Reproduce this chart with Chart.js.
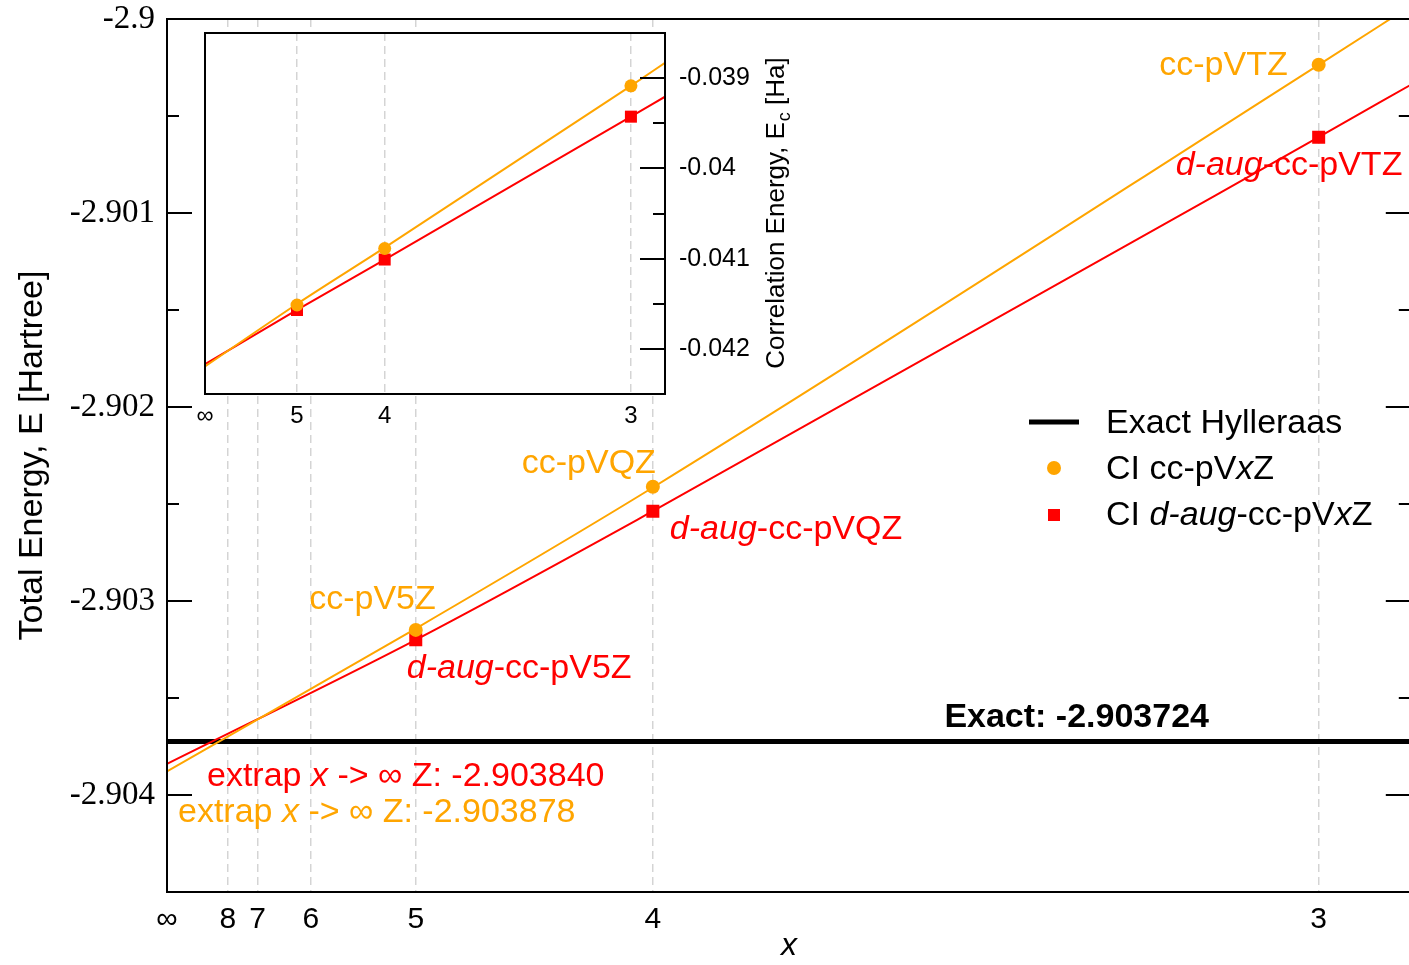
<!DOCTYPE html>
<html>
<head>
<meta charset="utf-8">
<script src="https://cdn.jsdelivr.net/npm/chart.js@4.4.1/dist/chart.umd.min.js"></script>
<style>
  html, body { margin: 0; padding: 0; background: #fff; overflow: hidden; width: 1409px; height: 965px; }
  #main { position: absolute; left: 0; top: 0; width: 1420px; height: 965px; }
  #inset { position: absolute; left: 150px; top: 0; width: 680px; height: 440px; }
</style>
</head>
<body>
<canvas id="main" width="1420" height="965"></canvas>
<canvas id="inset" width="680" height="440"></canvas>
<script>
// ---------------- data ----------------
const basisN = [3, 4, 5];                      // cardinal number x of the measured basis sets
const basisTags = ['T', 'Q', '5'];
const ccTotal   = [-2.900236, -2.902411, -2.903149];   // CI cc-pVxZ total energies
const daugTotal = [-2.900609, -2.902537, -2.903200];   // CI d-aug-cc-pVxZ total energies
const exactHylleraas = -2.903724;

// extrapolation curves, read at x^-3 = 0, 5^-3, 4^-3, 3^-3, 0.04
const fitX          = [0, 0.008, 0.015625, 0.037037, 0.04];
const ccFitTotal    = [-2.903878, -2.903142, -2.902415, -2.900236, -2.899932];
const daugFitTotal  = [-2.903840, -2.903200, -2.902537, -2.900609, -2.900339];

// inset: correlation energies
const ccCorr      = [-0.039085, -0.040888, -0.041514];
const daugCorr    = [-0.039427, -0.041010, -0.041569];
const ccFitCorr   = [-0.042195, -0.041503, -0.040879, -0.039085, -0.038831];
const daugFitCorr = [-0.042169, -0.041569, -0.041010, -0.039427, -0.039206];

// ticks
const mainXTickN  = [Infinity, 8, 7, 6, 5, 4, 3];
const insetXTickN = [Infinity, 5, 4, 3];
const mainYMajor  = [-2.904, -2.903, -2.902, -2.901, -2.9];
const mainYMinor  = [-2.9045, -2.9035, -2.9025, -2.9015, -2.9005];
const insetYMajor = [-0.042, -0.041, -0.04, -0.039];
const insetYMinor = [-0.0425, -0.0415, -0.0405, -0.0395, -0.0385];

// ---------------- styling ----------------
const ORANGE = '#FFA500';
const RED = '#FF0000';
const GRID = 'rgba(0,0,0,0.17)';
const SANS = '"Liberation Sans", Arial, Helvetica, sans-serif';
const SERIF = '"Liberation Serif", "Times New Roman", serif';
Chart.defaults.font.family = SANS;
Chart.defaults.color = '#000';

const invCube = n => (n === Infinity ? 0 : 1 / Math.pow(n, 3));
const tickLabel = n => (n === Infinity ? '\u221E' : String(n));
const pts = (xs, ys) => xs.map((x, i) => ({ x: x, y: ys[i] }));
const near = (a, b) => Math.abs(a - b) < 1e-9;
const noScalePadding = s => { s.paddingTop = 0; s.paddingBottom = 0; s.paddingLeft = 0; s.paddingRight = 0; };

// rich text: segments between underscores are italic
function richParts(s) {
  return s.split('_').map((t, i) => ({ t: t, i: i % 2 === 1 })).filter(p => p.t.length);
}
function drawRich(ctx, str, x, y, size, color, align, bold) {
  const parts = richParts(str);
  const f = p => (p.i ? 'italic ' : '') + (bold ? 'bold ' : '') + size + 'px ' + SANS;
  let total = 0;
  const w = parts.map(p => { ctx.font = f(p); const m = ctx.measureText(p.t).width; total += m; return m; });
  let cx = align === 'right' ? x - total : (align === 'center' ? x - total / 2 : x);
  ctx.save();
  ctx.fillStyle = color; ctx.textAlign = 'left'; ctx.textBaseline = 'alphabetic';
  parts.forEach((p, k) => { ctx.font = f(p); ctx.fillText(p.t, cx, y); cx += w[k]; });
  ctx.restore();
}

function drawInwardTicks(ctx, chart, scale, majors, left, right) {
  const a = chart.chartArea;
  ctx.save();
  ctx.strokeStyle = '#000'; ctx.lineWidth = 2;
  scale.ticks.forEach(t => {
    const py = Math.round(scale.getPixelForValue(t.value));
    const len = majors.some(m => near(m, t.value)) ? 25 : 12;
    ctx.beginPath();
    if (left) { ctx.moveTo(a.left, py); ctx.lineTo(a.left + len, py); }
    if (right) { ctx.moveTo(a.right, py); ctx.lineTo(a.right - len, py); }
    ctx.stroke();
  });
  ctx.restore();
}

// ---------------- main chart ----------------
const pointLabels = [
  { ds: 0, k: 0, text: 'cc-pVTZ',          color: ORANGE, align: 'right', dx: -31, dy: 10 },
  { ds: 1, k: 0, text: '_d-aug_-cc-pVTZ',  color: RED,    align: 'left',  dx: -143, dy: 38 },
  { ds: 0, k: 1, text: 'cc-pVQZ',          color: ORANGE, align: 'right', dx: 3,   dy: -14 },
  { ds: 1, k: 1, text: '_d-aug_-cc-pVQZ',  color: RED,    align: 'left',  dx: 17,  dy: 28 },
  { ds: 0, k: 2, text: 'cc-pV5Z',          color: ORANGE, align: 'right', dx: 20,  dy: -21 },
  { ds: 1, k: 2, text: '_d-aug_-cc-pV5Z',  color: RED,    align: 'left',  dx: -9,  dy: 38 }
];

const mainPlugin = {
  id: 'mainDecor',
  afterDraw(chart) {
    const ctx = chart.ctx, a = chart.chartArea, xs = chart.scales.x, ys = chart.scales.y;
    // frame
    ctx.save(); ctx.strokeStyle = '#000'; ctx.lineWidth = 2;
    ctx.strokeRect(a.left, a.top, a.right - a.left, a.bottom - a.top);
    ctx.restore();
    drawInwardTicks(ctx, chart, ys, mainYMajor, true, true);

    // point labels
    pointLabels.forEach(l => {
      const el = chart.getDatasetMeta(l.ds).data[l.k];
      drawRich(ctx, l.text, el.x + l.dx, el.y + l.dy, 34, l.color, l.align, false);
    });
    // exact value
    const yEx = ys.getPixelForValue(exactHylleraas);
    drawRich(ctx, 'Exact: ' + exactHylleraas.toFixed(6), xs.getPixelForValue(0.025), yEx - 14, 34, '#000', 'left', true);
    // extrapolated values
    const x0 = xs.getPixelForValue(0);
    drawRich(ctx, 'extrap _x_ -> \u221E Z: ' + daugFitTotal[0].toFixed(6), x0 + 40, ys.getPixelForValue(daugFitTotal[0]) + 22, 34, RED, 'left', false);
    drawRich(ctx, 'extrap _x_ -> \u221E Z: ' + ccFitTotal[0].toFixed(6), x0 + 11, ys.getPixelForValue(ccFitTotal[0]) + 51, 34, ORANGE, 'left', false);

    // legend
    const ds = chart.data.datasets;
    const lx = 1054, tx = 1106;
    ctx.save();
    ctx.strokeStyle = ds[4].borderColor; ctx.lineWidth = 5;
    ctx.beginPath(); ctx.moveTo(lx - 25, 422); ctx.lineTo(lx + 25, 422); ctx.stroke();
    ctx.fillStyle = ds[0].backgroundColor;
    ctx.beginPath(); ctx.arc(lx, 468, 7, 0, Math.PI * 2); ctx.fill();
    ctx.fillStyle = ds[1].backgroundColor;
    ctx.fillRect(lx - 6, 509, 12, 12);
    ctx.restore();
    drawRich(ctx, ds[4].label, tx, 433, 34, '#000', 'left', false);
    drawRich(ctx, ds[0].label, tx, 479, 34, '#000', 'left', false);
    drawRich(ctx, ds[1].label, tx, 525, 34, '#000', 'left', false);
  }
};

new Chart(document.getElementById('main'), {
  type: 'scatter',
  data: {
    datasets: [
      { label: 'CI cc-pV_x_Z', data: pts(basisN.map(invCube), ccTotal), order: 0,
        pointStyle: 'circle', pointRadius: 7, backgroundColor: ORANGE, borderWidth: 0, showLine: false },
      { label: 'CI _d-aug_-cc-pV_x_Z', data: pts(basisN.map(invCube), daugTotal), order: 0,
        pointStyle: 'rect', pointRadius: 9.2, backgroundColor: RED, borderWidth: 0, showLine: false },
      { label: 'fit cc', type: 'line', data: pts(fitX, ccFitTotal), order: 1,
        borderColor: ORANGE, borderWidth: 2, pointRadius: 0, fill: false, cubicInterpolationMode: 'monotone' },
      { label: 'fit d-aug', type: 'line', data: pts(fitX, daugFitTotal), order: 1,
        borderColor: RED, borderWidth: 2, pointRadius: 0, fill: false, cubicInterpolationMode: 'monotone' },
      { label: 'Exact Hylleraas', type: 'line', data: pts([0, 0.04], [exactHylleraas, exactHylleraas]), order: 2,
        borderColor: '#000', borderWidth: 5, pointRadius: 0, fill: false }
    ]
  },
  options: {
    responsive: false, animation: false,
    layout: { padding: { left: 0, right: 8, top: 19, bottom: 0 } },
    plugins: { legend: { display: false }, tooltip: { enabled: false } },
    scales: {
      x: {
        type: 'linear', min: 0, max: 0.04,
        afterBuildTicks: s => { s.ticks = mainXTickN.map(n => ({ value: invCube(n) })); },
        afterFit: s => { s.height = 73; noScalePadding(s); },
        ticks: { autoSkip: false, maxRotation: 0, padding: 10, color: '#000',
                 font: { size: 30, family: SANS },
                 callback: (v, i) => tickLabel(mainXTickN[i]) },
        grid: { drawTicks: false, lineWidth: 1.5,
                color: c => (c.tick && c.tick.value === 0 ? 'rgba(0,0,0,0)' : GRID) },
        border: { display: false, dash: [8, 5] },
        title: { display: true, text: 'x', color: '#000', font: { size: 32, style: 'italic', family: SANS }, padding: { top: 0, bottom: 0 } }
      },
      y: {
        type: 'linear', min: -2.9045, max: -2.9,
        afterBuildTicks: s => { s.ticks = mainYMajor.concat(mainYMinor).sort((a, b) => a - b).map(v => ({ value: v })); },
        afterFit: s => { s.width = 167; noScalePadding(s); },
        ticks: { autoSkip: false, padding: 12, color: '#000', font: { size: 33, family: SERIF },
                 callback: v => (mainYMajor.some(m => near(m, v)) ? String(mainYMajor.find(m => near(m, v))) : '') },
        grid: { display: false, drawTicks: false },
        border: { display: false },
        title: { display: true, text: 'Total Energy, E [Hartree]', color: '#000', font: { size: 34, family: SANS }, padding: { top: 12, bottom: 0 } }
      }
    }
  },
  plugins: [mainPlugin]
});

// ---------------- inset chart ----------------
const insetPlugin = {
  id: 'insetDecor',
  beforeDraw(chart) {
    const ctx = chart.ctx, a = chart.chartArea;
    ctx.save(); ctx.fillStyle = '#fff';
    ctx.fillRect(a.left, a.top, a.right - a.left, a.bottom - a.top);
    ctx.restore();
  },
  afterDraw(chart) {
    const ctx = chart.ctx, a = chart.chartArea;
    ctx.save(); ctx.strokeStyle = '#000'; ctx.lineWidth = 2;
    ctx.strokeRect(a.left, a.top, a.right - a.left, a.bottom - a.top);
    ctx.restore();
    drawInwardTicks(ctx, chart, chart.scales.y, insetYMajor, false, true);
    // right-hand axis title with subscript
    const p1 = 'Correlation Energy, E', p2 = 'c', p3 = ' [Ha]';
    ctx.save();
    ctx.fillStyle = '#000'; ctx.textBaseline = 'alphabetic'; ctx.textAlign = 'left';
    ctx.font = '26px ' + SANS; const w1 = ctx.measureText(p1).width, w3 = ctx.measureText(p3).width;
    ctx.font = '18px ' + SANS; const w2 = ctx.measureText(p2).width;
    const cy = (a.top + a.bottom) / 2;
    ctx.translate(a.right + 119, cy);
    ctx.rotate(-Math.PI / 2);
    let sx = -(w1 + w2 + w3) / 2;
    ctx.font = '26px ' + SANS; ctx.fillText(p1, sx, 0);
    ctx.font = '18px ' + SANS; ctx.fillText(p2, sx + w1 + 1, 6);
    ctx.font = '26px ' + SANS; ctx.fillText(p3, sx + w1 + w2 + 1, 0);
    ctx.restore();
  }
};

new Chart(document.getElementById('inset'), {
  type: 'scatter',
  data: {
    datasets: [
      { label: 'cc', data: pts(basisN.map(invCube), ccCorr), order: 0,
        pointStyle: 'circle', pointRadius: 6.5, backgroundColor: ORANGE, borderWidth: 0 },
      { label: 'd-aug', data: pts(basisN.map(invCube), daugCorr), order: 0,
        pointStyle: 'rect', pointRadius: 8.5, backgroundColor: RED, borderWidth: 0 },
      { label: 'fit cc', type: 'line', data: pts(fitX, ccFitCorr), order: 1,
        borderColor: ORANGE, borderWidth: 2, pointRadius: 0, fill: false, cubicInterpolationMode: 'monotone' },
      { label: 'fit d-aug', type: 'line', data: pts(fitX, daugFitCorr), order: 1,
        borderColor: RED, borderWidth: 2, pointRadius: 0, fill: false, cubicInterpolationMode: 'monotone' }
    ]
  },
  options: {
    responsive: false, animation: false,
    layout: { padding: { left: 55, right: 0, top: 33, bottom: 0 } },
    plugins: { legend: { display: false }, tooltip: { enabled: false } },
    scales: {
      x: {
        type: 'linear', min: 0, max: 0.04,
        afterBuildTicks: s => { s.ticks = insetXTickN.map(n => ({ value: invCube(n) })); },
        afterFit: s => { s.height = 46; noScalePadding(s); },
        ticks: { autoSkip: false, maxRotation: 0, padding: 8, color: '#000', font: { size: 24, family: SANS },
                 callback: (v, i) => tickLabel(insetXTickN[i]) },
        grid: { drawTicks: false, lineWidth: 1.5,
                color: c => (c.tick && c.tick.value === 0 ? 'rgba(0,0,0,0)' : GRID) },
        border: { display: false, dash: [8, 5] }
      },
      y: {
        type: 'linear', position: 'right', min: -0.0425, max: -0.0385,
        afterBuildTicks: s => { s.ticks = insetYMajor.concat(insetYMinor).sort((a, b) => a - b).map(v => ({ value: v })); },
        afterFit: s => { s.width = 165; noScalePadding(s); },
        ticks: { autoSkip: false, padding: 14, color: '#000', font: { size: 25, family: SANS },
                 callback: v => (insetYMajor.some(m => near(m, v)) ? String(insetYMajor.find(m => near(m, v))) : '') },
        grid: { display: false, drawTicks: false },
        border: { display: false }
      }
    }
  },
  plugins: [insetPlugin]
});
</script>
</body>
</html>
